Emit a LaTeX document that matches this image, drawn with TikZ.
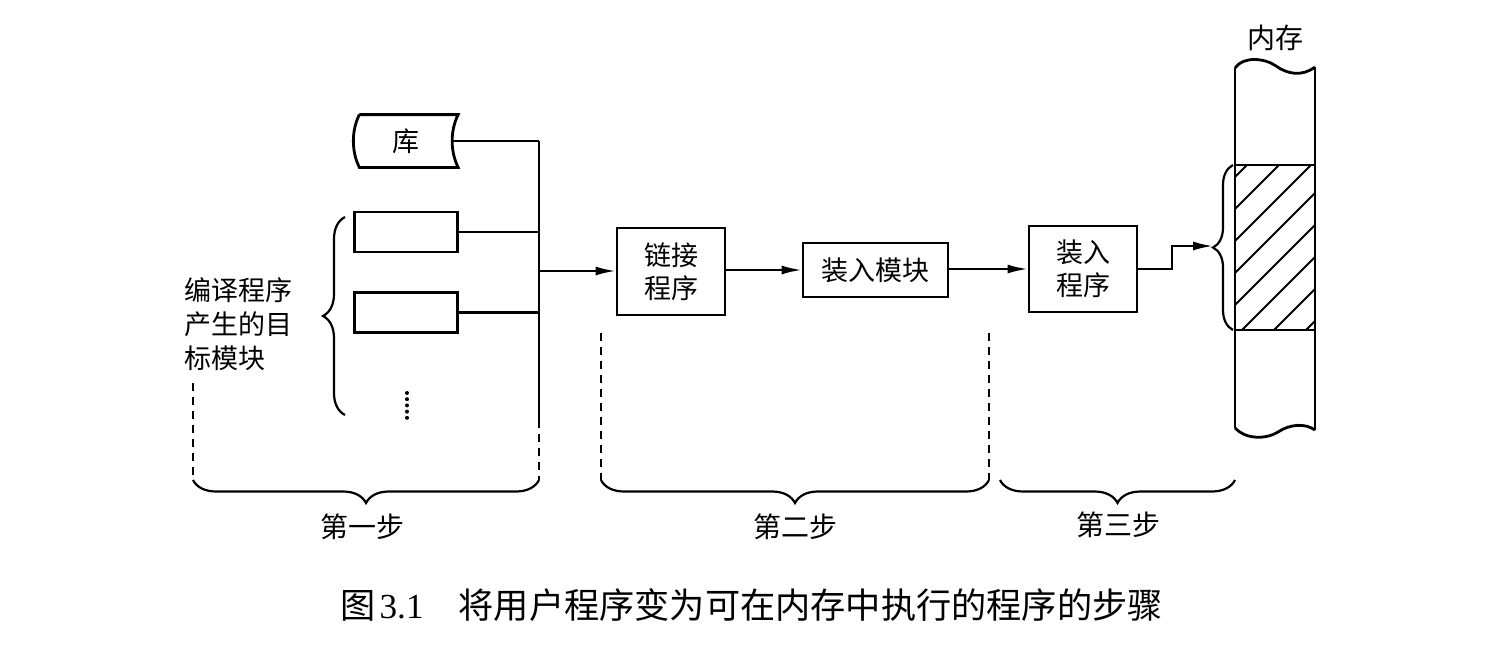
\documentclass[tikz,border=0pt]{standalone}
\usepackage{fontspec}
\setmainfont{Noto Sans CJK SC}
\newfontfamily\capnum{Liberation Serif}
\usetikzlibrary{arrows.meta,decorations.pathreplacing}
\begin{document}
\begin{tikzpicture}[x=0.5pt,y=-0.5pt,
  box/.style={draw,line width=1.4pt,inner sep=0pt,align=center,font=\fontsize{13.5}{16.5}\selectfont},
  conn/.style={line width=1.1pt},
  arr/.style={line width=1.1pt,-{Latex[length=10pt,width=4.5pt]}},
  dashln/.style={line width=1.1pt,dash pattern=on 4pt off 3pt},
  lbl/.style={inner sep=0pt,font=\fontsize{14}{17}\selectfont},
  brc/.style={line width=1.1pt,decorate,decoration={brace,amplitude=#1}},
  brc/.default=11.5pt,
  shapeln/.style={line width=1.4pt}
]
\fill[white] (0,0) rectangle (1510,648);
\useasboundingbox (0,0) rectangle (1510,648);

% library
\node[inner sep=0pt,minimum width=51.5pt,minimum height=26pt,font=\fontsize{13.5}{16.5}\selectfont] (lib) at (406.25,141) {库};
\draw[shapeln] ([xshift=2.5pt]lib.north west) -- (lib.north east)
  .. controls +(-4pt,-8pt) and +(-4pt,8pt) .. (lib.south east)
  -- ([xshift=2.5pt]lib.south west)
  .. controls +(-4pt,8pt) and +(-4pt,-8pt) .. ([xshift=2.5pt]lib.north west);

% object modules
\node[box,minimum width=51.5pt,minimum height=20pt] (obj1) at (406.25,232) {};
\node[box,minimum width=51.5pt,minimum height=20pt] (obj2) at (406.25,312.5) {};
\coordinate (dtop) at (407,393);
\coordinate (dbot) at (407,418);
\draw[line width=2pt,line cap=round,dash pattern=on 0pt off 3.1pt] (dtop) -- (dbot);

\node[lbl,anchor=west,align=left,font=\fontsize{13.5}{17}\selectfont] (objlbl) at (184,324) {编译程序\\产生的目\\标模块};

% bus
\coordinate (busT) at (539,141);
\coordinate (busM) at (539,271);
\coordinate (busS) at (539,420);
\coordinate (busE) at (539,480);
\draw[conn] ([xshift=-3pt]lib.east) -- (busT);
\draw[conn] (obj1.east) -- (obj1.east -| busT);
\draw[conn] (obj2.east) -- (obj2.east -| busT);
\draw[conn] (busT) -- (busS);
\draw[dashln] (busS) -- (busE);

% left brace for object modules
\coordinate (objbB) at (345,415);
\coordinate (objbT) at (345,217);
\draw[brc=11pt] (objbB) -- (objbT);

% boxes of step 2 and 3
\node[box,minimum width=54pt,minimum height=43.5pt] (link) at (671,271.5) {链接\\程序};
\node[box,minimum width=72.5pt,minimum height=27pt] (loadmod) at (875.5,270) {装入模块};
\node[box,minimum width=54pt,minimum height=43pt] (loader) at (1083,269) {装入\\程序};

\draw[arr] (busM) -- (busM -| link.west);
\draw[arr] (link.east |- loadmod.west) -- (loadmod.west);
\draw[arr] (loadmod.east |- loader.west) -- (loader.west);

% memory
\node[lbl] (memlbl) at (1275,38) {内存};
\draw[shapeln] (1235,68) .. controls (1243,56) and (1265,58) .. (1276,66)
   .. controls (1287,74) and (1302,77) .. (1315,67);
\draw[shapeln] (1235,428) .. controls (1245,439) and (1265,440) .. (1278,432)
   .. controls (1290,424) and (1305,423) .. (1315,430);
\draw[shapeln] (1235,68) -- (1235,428);
\draw[shapeln] (1315,67) -- (1315,430);
\begin{scope}
\clip (1235,165) rectangle (1315,330);
\foreach \c in {1412,1444,...,1650} \draw[line width=1pt] (\c-330,330) -- (\c-165,165);
\end{scope}
\draw[shapeln] (1235,165) -- (1315,165);
\draw[shapeln] (1235,330) -- (1315,330);

\coordinate (membB) at (1233,330);
\coordinate (membT) at (1233,165);
\draw[brc=10pt] (membB) -- (membT);
\coordinate (memtip) at (1213,246);
\coordinate (bend) at (1172,269);
\draw[arr] (loader.east) -- (bend) |- (memtip);

% dashed guides
\coordinate (g1t) at (193,383);
\coordinate (g1b) at (193,480);
\draw[dashln] (g1t) -- (g1b);
\coordinate (g2t) at (601,333);
\coordinate (g2b) at (601,480);
\coordinate (g3t) at (989,333);
\coordinate (g3b) at (989,480);
\draw[dashln] (g2t) -- (g2b);
\draw[dashln] (g3t) -- (g3b);
\coordinate (b3l) at (1000,480);
\coordinate (b3r) at (1235,480);

% step braces
\draw[brc] (busE) -- (g1b);
\draw[brc] (g3b) -- (g2b);
\draw[brc] (b3r) -- (b3l);

\node[lbl] (s1) at (362,527) {第一步};
\node[lbl] (s2) at (795,527) {第二步};
\node[lbl] (s3) at (1118,525) {第三步};

% caption
\node[inner sep=0pt,anchor=west,font=\fontsize{17.6}{20}\selectfont] (cap) at (340,605)
  {图\hspace{2pt}{\capnum 3.1}\hspace{17.5pt}将用户程序变为可在内存中执行的程序的步骤};
\end{tikzpicture}
\end{document}
